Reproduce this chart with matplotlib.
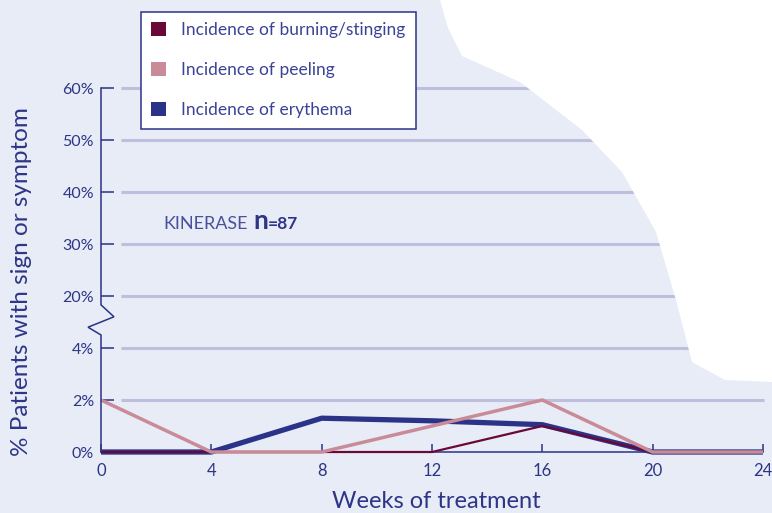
import matplotlib
matplotlib.use("Agg")
import matplotlib.pyplot as plt
from matplotlib.patches import Polygon, Patch

plt.rcParams['font.family'] = ['Lato', 'DejaVu Sans']

# data (percent of patients)
weeks = [0, 4, 8, 12, 16, 20, 24]
burning = [0, 0, 0, 0, 1.0, 0, 0]
peeling = [2.0, 0, 0, 1.0, 2.0, 0, 0]
erythema = [0, 0, 1.3, 1.2, 1.05, 0, 0]
y_tick_values = [0, 2, 4, 20, 30, 40, 50, 60]
y_tick_labels = ['0%', '2%', '4%', '20%', '30%', '40%', '50%', '60%']
x_ticks = [0, 4, 8, 12, 16, 20, 24]

NAVY = '#2b3388'
PINK = '#c98b98'
MAROON = '#6a0838'
GRID = '#bfbfdd'
TEXT = '#2e3586'


def ypos(v):
    # broken axis: 0-4% in 2% steps, then 20-60% in 10% steps
    if v <= 4:
        return v / 2.0
    return 3 + (v - 20) / 10.0


W, H = 772, 513
fig = plt.figure(figsize=(W / 100, H / 100), dpi=100)
fig.patch.set_facecolor('#e7ecf6')

# pale backdrop: white area at upper right
bg = [(440, 0), (772, 0), (772, 382), (725, 380), (692, 362), (676, 300),
      (656, 232), (622, 172), (582, 130), (520, 82), (462, 56), (448, 28)]
fig.patches.append(Polygon([(x / W, 1 - y / H) for x, y in bg], closed=True,
                           transform=fig.transFigure, facecolor='white',
                           edgecolor='none', zorder=0))

ax = fig.add_axes([101 / W, 1 - 452 / H, 662 / W, 364 / H])
ax.set_facecolor('none')
ax.set_xlim(0, 24)
ax.set_ylim(0, 7)

# gridlines
for v in y_tick_values[1:]:
    ax.hlines(ypos(v), 0.73, 24.05, color=GRID, lw=2.2, zorder=1, clip_on=False)

# y axis with break marker
ax.plot([0, 0, 0.47, -0.47, 0, 0], [7, 2.83, 2.6, 2.4, 2.25, 0],
        color=NAVY, lw=1.1, clip_on=False, zorder=5, solid_joinstyle='miter')

ax.plot(weeks, [ypos(v) for v in burning], color=MAROON, lw=1.6, zorder=3,
        clip_on=False, solid_capstyle='butt')
ax.plot(weeks, [ypos(v) for v in erythema], color=NAVY, lw=3.8, zorder=2,
        clip_on=False, solid_capstyle='butt')
ax.plot(weeks, [ypos(v) for v in peeling], color=PINK, lw=2.5, zorder=4,
        clip_on=False, solid_capstyle='butt')

for s in ['left', 'top', 'right']:
    ax.spines[s].set_visible(False)
ax.spines['bottom'].set_color(NAVY)
ax.spines['bottom'].set_linewidth(1.1)

ax.set_yticks([ypos(v) for v in y_tick_values])
ax.set_yticklabels(y_tick_labels)
ax.set_xticks(x_ticks)
ax.set_xticklabels([str(x) for x in x_ticks])
ax.tick_params(axis='y', direction='in', length=9, width=1.1, color=NAVY,
               labelcolor=TEXT, labelsize=11.5, pad=5)
ax.tick_params(axis='x', direction='in', length=6, width=1.1, color=NAVY,
               labelcolor=TEXT, labelsize=12, pad=8)

fig.text(22 / W, 1 - 282 / H, '% Patients with sign or symptom', rotation=90,
         ha='center', va='center', color=TEXT, fontsize=17.5)
fig.text(436 / W, 1 - 508 / H, 'Weeks of treatment', ha='center', va='baseline',
         color=TEXT, fontsize=17)

fig.text(163 / W, 1 - 229 / H, 'KINERASE', color='#4a519c', fontsize=13,
         va='baseline')
fig.text(253 / W, 1 - 229 / H, 'n', color=TEXT, fontsize=19,
         va='baseline', fontweight='bold')
fig.text(268 / W, 1 - 229 / H, '=87', color=TEXT, fontsize=12.5,
         va='baseline', fontweight='bold')

handles = [Patch(facecolor=MAROON, edgecolor='none', label='Incidence of burning/stinging'),
           Patch(facecolor=PINK, edgecolor='none', label='Incidence of peeling'),
           Patch(facecolor=NAVY, edgecolor='none', label='Incidence of erythema')]
leg = fig.legend(handles=handles, loc='upper left',
                 bbox_to_anchor=(141 / W, 1 - 12 / H), borderaxespad=0,
                 fancybox=False, framealpha=1, edgecolor=NAVY,
                 prop={'size': 12.5},
                 handlelength=0.85, handleheight=0.85, handletextpad=0.85,
                 labelspacing=1.38, borderpad=0.6, labelcolor='#3b4396')
leg.get_frame().set_linewidth(1.1)

fig.savefig('out.png', dpi=100, facecolor=fig.get_facecolor())
